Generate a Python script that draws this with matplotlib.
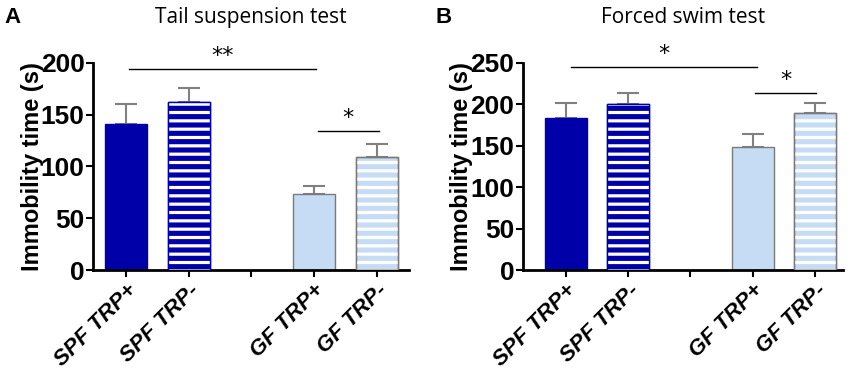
import matplotlib.pyplot as plt
import numpy as np

groups = ["SPF TRP+", "SPF TRP-", "", "GF TRP+", "GF TRP-"]
positions = [0, 1, 3, 4]

tail_mean = [141, 162, 73, 109]
tail_err = [19, 14, 8, 13]
swim_mean = [184, 200, 148, 190]
swim_err = [18, 14, 16, 12]

dark = "#0000a8"
light = "#c6dcf5"
faces = [dark, dark, light, light]
edges = [dark, dark, "#7a7a7a", "#7a7a7a"]
striped = [False, True, False, True]

plt.rcParams["font.family"] = ["Liberation Sans Narrow", "Liberation Sans", "DejaVu Sans"]
plt.rcParams["hatch.linewidth"] = 2.3

fig = plt.figure(figsize=(8.5, 3.74), dpi=100)


def panel(rect, means, errs, ymax, step, xlim, title, letter, letter_x, sigs):
    ax = fig.add_axes(rect)
    for p, m, fc, ec, st in zip(positions, means, faces, edges, striped):
        ax.bar(p, m, width=0.67, color=fc, edgecolor=ec, linewidth=1, zorder=2)
        if st:
            ax.bar(p, m, width=0.67, color="none", edgecolor="white",
                   linewidth=0, hatch="--", zorder=3)
            ax.bar(p, m, width=0.67, color="none", edgecolor=ec, linewidth=1, zorder=4)
    ax.errorbar(positions, means, yerr=[np.zeros(len(means)), errs], fmt="none",
                ecolor="#808080", elinewidth=1.5, capsize=8, capthick=1.5, zorder=1)
    ax.set_xlim(*xlim)
    ax.set_ylim(0, ymax)
    ax.set_yticks(np.arange(0, ymax + 1, step))
    ax.set_xticks(range(5))
    ax.set_xticklabels(groups, rotation=45, ha="right", rotation_mode="anchor",
                       fontsize=16, fontweight="bold", fontstyle="italic")
    for lab in ax.get_yticklabels():
        lab.set_fontsize(19)
        lab.set_fontweight("bold")
    ax.tick_params(axis="y", direction="out", width=1.5, length=5, pad=1)
    ax.tick_params(axis="x", direction="out", width=1.5, length=5, pad=2)
    for s in ["top", "right"]:
        ax.spines[s].set_visible(False)
    for s in ["left", "bottom"]:
        ax.spines[s].set_linewidth(2)
    ax.set_ylabel("Immobility time (s)", fontsize=17, fontweight="bold")
    ax.yaxis.set_label_coords(-0.155, 0.5)
    for x0, x1, y, txt in sigs:
        ax.plot([x0, x1], [y, y], color="black", lw=1, clip_on=False)
        ax.text((x0 + x1) / 2, y + ymax * 0.015, txt, ha="center", va="bottom",
                fontsize=16, family="DejaVu Sans")
    fig.text(rect[0] + rect[2] / 2, 0.952, title, ha="center", va="center",
             fontsize=15, family="Open Sans")
    fig.text(letter_x, 0.952, letter, ha="left", va="center", fontsize=16,
             fontweight="bold", family="Liberation Sans")
    return ax


panel([0.1094, 0.278, 0.372, 0.554], tail_mean, tail_err, 200, 50, (-0.53, 4.52),
      "Tail suspension test", "A", 0.005,
      [(0.05, 3.03, 194, "**"), (3.06, 4.03, 134, "*")])
panel([0.615, 0.278, 0.377, 0.554], swim_mean, swim_err, 250, 50, (-0.69, 4.45),
      "Forced swim test", "B", 0.512,
      [(0.08, 3.07, 245, "*"), (3.03, 4.02, 214, "*")])

fig.savefig("out.png", dpi=100)
